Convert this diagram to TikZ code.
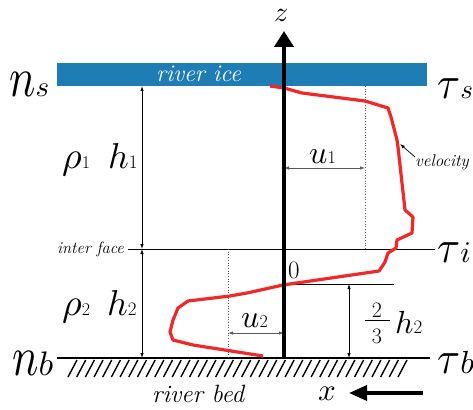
\documentclass[tikz,border=0pt]{standalone}
\usepackage{fontspec}
\usepackage{graphicx}
\usetikzlibrary{arrows.meta}
\newcommand{\fsz}[1]{\fontsize{#1}{#1}\selectfont}
\newcommand{\mletter}[2]{\scalebox{#1}{$#2$}}
\definecolor{iceblue}{RGB}{31,125,181}
\definecolor{velred}{RGB}{240,40,40}
\definecolor{dimgray}{RGB}{90,90,90}
\tikzset{
  lbl/.style={inner sep=0pt, anchor=base west},
  dimline/.style={line width=0.8pt, {Latex[length=5pt,width=3.5pt]}-{Latex[length=5pt,width=3.5pt]}},
  uline/.style={line width=0.8pt, dimgray, {Latex[length=5pt,width=3.5pt]}-{Latex[length=5pt,width=3.5pt]}},
  dotline/.style={line width=0.7pt, dimgray, dotted},
  thinline/.style={line width=0.9pt},
}
\begin{document}
\begin{tikzpicture}[x=1pt,y=-1pt]
\useasboundingbox (0,0) rectangle (473,409);
% ice
\fill[iceblue] (57,63) rectangle (427,86);
\node[lbl, text=white] (ice) at (156,82) {\fsz{24}\itshape river ice};
% key coordinates
\coordinate (icebot) at (142,86);
\coordinate (intf) at (142,249);
\coordinate (bedd) at (142,358);
% interface
\draw[thinline] (128,249) -- (435,249);
\node[lbl] (interface) at (57,253) {\fsz{16.5}\itshape inter face};
% bed
\draw[line width=1.6pt] (57,358) -- (430,358);
\foreach \i in {0,...,38} {
  \draw[line width=1.4pt] ({77+\i*8.684},360) -- ({68+\i*8.684},377);
}
\node[lbl] (bed) at (152,402) {\fsz{25}\itshape river bed};
% dimension lines h1, h2
\draw[dimline] (icebot) -- (intf);
\draw[dimline] (intf) -- (bedd);
% 2/3 h2
\draw[thinline] (284,284) -- (394,284);
\coordinate (tt) at (349,284);
\coordinate (tb) at (349,358);
\draw[dimline] (tt) -- (tb);
\node[inner sep=0pt] (num) at (377,310) {\fsz{22}2};
\node[inner sep=0pt] (den) at (377,336) {\fsz{22}3};
\draw[line width=0.9pt] (365,320) -- (390,320);
\node[lbl] (htwo) at (395,333) {\mletter{3.2}{h}\fsz{19}2};
% u1
\draw[dotline] (365,86) -- (365,249);
\coordinate (ua) at (284,168);
\coordinate (ub) at (365,168);
\draw[uline] (ua) -- (ub);
\node[lbl] (uone) at (309,163) {\mletter{3.2}{u}\fsz{18}1};
% u2
\draw[dotline] (228,249) -- (228,358);
\coordinate (uc) at (228,333);
\coordinate (ud) at (284,333);
\draw[uline] (uc) -- (ud);
\node[lbl] (utwo) at (241,327) {\mletter{3.2}{u}\fsz{18}2};
% velocity profile
\draw[velred, line width=3.2pt, line join=round]
 (270,86) -- (284,88) -- (302,93) -- (365,101) -- (388,108) -- (391,117) -- (397,140)
 -- (398,147) -- (405,210) -- (413,217) -- (412,233) -- (397,240) -- (396,248)
 -- (388,253) -- (385,262) -- (379,271) -- (283,285) -- (247,293) -- (230,296)
 -- (188,301) -- (178,308) -- (173,320) -- (170,332) -- (173,340) -- (193,345) -- (263,356);
% z axis
\coordinate (zb) at (284,358);
\coordinate (zt) at (284,31);
\draw[line width=4pt, -{Triangle[length=16pt,width=19pt]}] (zb) -- (zt);
\node[lbl] (zl) at (274,22) {\mletter{2.8}{z}};
\node[lbl] (zero) at (288,278) {\fsz{25}0};
% velocity label
\node[lbl] (vel) at (415,166) {\fsz{17}\itshape velocity};
\coordinate (vt) at (400,144);
\draw[line width=0.7pt, -{Latex[length=5pt,width=3.5pt]}] (vel.north west) ++(0,3) -- (vt);
% x arrow
\coordinate (xa) at (423,393);
\coordinate (xb) at (349,393);
\draw[line width=3.5pt, -{Triangle[length=18pt,width=15pt]}] (xa) -- (xb);
\node[lbl] (xl) at (318,400) {\mletter{3.1}{x}};
% rho, h labels
\node[lbl] (rho1) at (62,168) {\mletter{3.8}{\rho}\fsz{18}1};
\node[lbl] (h1) at (108,168) {\mletter{3.6}{h}\fsz{19}1};
\node[lbl] (rho2) at (62,315) {\mletter{3.8}{\rho}\fsz{18}2};
\node[lbl] (h2) at (107,315) {\mletter{3.6}{h}\fsz{19}2};
% n, tau labels
\node[lbl] (ns) at (9,97) {\scalebox{4.4}[5.6]{$n$}\mletter{2.9}{s}};
\node[lbl] (nb) at (12,375) {\scalebox{4.4}[5.6]{$n$}\mletter{3.4}{b}};
\node[lbl] (taus) at (437,99) {\scalebox{4.2}[4.6]{$\tau$}\mletter{2.7}{s}};
\node[lbl] (taui) at (437,262) {\scalebox{4.2}[4.6]{$\tau$}\mletter{3}{i}};
\node[lbl] (taub) at (437,373) {\scalebox{4.2}[4.6]{$\tau$}\mletter{3.2}{b}};
\end{tikzpicture}
\end{document}
